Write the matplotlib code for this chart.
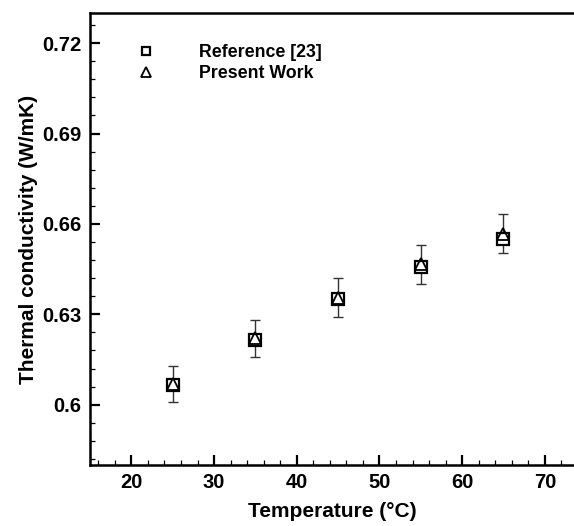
import numpy as np
import matplotlib
matplotlib.use('Agg')
import matplotlib.pyplot as plt
from matplotlib.ticker import MultipleLocator

# values
temperature = [25, 35, 45, 55, 65]
k_reference = [0.6066, 0.6216, 0.6352, 0.6456, 0.6550]
k_present = [0.6068, 0.6220, 0.6355, 0.6466, 0.6568]
k_error = [0.0060, 0.0062, 0.0064, 0.0065, 0.0066]
x_ticks = [20, 30, 40, 50, 60, 70]
y_ticks = [0.6, 0.63, 0.66, 0.69, 0.72]
y_ticklabels = ['0.6', '0.63', '0.66', '0.69', '0.72']

plt.rcParams['font.family'] = 'Liberation Sans'
plt.rcParams['font.weight'] = 'bold'

fig = plt.figure(figsize=(5.74, 5.26), dpi=100)
# the original is cropped on the right, so the axes run to the figure edge
ax = fig.add_axes([90/574, 61/526, 484/574, 452/526])

ax.errorbar(temperature, k_present, yerr=k_error, fmt='none', ecolor='#333333',
            elinewidth=1.0, capsize=3.5, capthick=1.0, zorder=2)
sq, = ax.plot(temperature, k_reference, 's', mfc='white', mec='black', mew=1.6,
              ms=8, label='Reference [23]', zorder=3)
tr, = ax.plot(temperature, k_present, '^', mfc='none', mec='black', mew=1.3,
              ms=8.5, label='Present Work', zorder=4)

ax.set_xlim(15, 15 + 484/8.27)
ax.set_ylim(0.58, 0.73)
ax.set_xticks(x_ticks)
ax.xaxis.set_minor_locator(MultipleLocator(2))
ax.set_yticks(y_ticks)
ax.set_yticklabels(y_ticklabels)
ax.yaxis.set_minor_locator(MultipleLocator(0.006))

ax.tick_params(which='both', direction='in', top=False, right=False, labelsize=14.5)
ax.tick_params(which='major', length=7, width=1.6, pad=6)
ax.tick_params(which='minor', length=3.5, width=0.9)
for s in ax.spines.values():
    s.set_linewidth(1.8)
ax.spines['right'].set_visible(False)

ax.set_xlabel('Temperature (°C)', fontsize=15, fontweight='bold', labelpad=7)
ax.set_ylabel('Thermal conductivity (W/mK)', fontsize=15, fontweight='bold', labelpad=3)

ax.legend(handles=[sq, tr], loc='upper left', bbox_to_anchor=(0.1, 0.932),
          frameon=False, fontsize=12.8, handlelength=0.8, handletextpad=2.6,
          borderpad=0, borderaxespad=0, labelspacing=0.25, markerscale=0.8)

fig.savefig('out.png', dpi=100)
